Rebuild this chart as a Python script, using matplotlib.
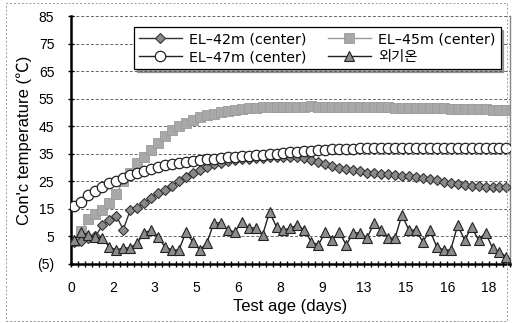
import matplotlib
matplotlib.use("Agg")
import matplotlib.pyplot as plt
import numpy as np
from matplotlib.patches import Rectangle

plt.rcParams['font.family'] = ['Liberation Sans', 'Noto Sans CJK KR', 'DejaVu Sans']

x_labels = ['0', '2', '3', '5', '6', '8', '9', '13', '15', '16', '18']
label_step = 6

el42 = [3, 3.5, 4.5, 5, 9, 11, 12.5, 7.5, 14.5, 15.5, 17, 19, 20.8, 22, 23.5, 25, 26.5, 28,
        29.3, 30.3, 31.2, 31.8, 32.3, 32.7, 33, 33.2, 33.4, 33.6, 33.8, 34, 34, 34, 33.8,
        33.4, 32.9, 32.2, 31.4, 30.6, 30, 29.5, 29, 28.6, 28.2, 27.9, 27.7, 27.5, 27.3,
        27.1, 26.9, 26.6, 26.3, 25.9, 25.4, 24.9, 24.4, 24.1, 23.8, 23.5, 23.3, 23.1, 23,
        23, 22.9]
el45 = [3.5, 7, 11.5, 13, 14.5, 17, 20.5, 25, 28, 31.5, 34, 36.5, 39, 41.5, 43.5, 45, 46.3,
        47.4, 48.3, 49, 49.6, 50.1, 50.6, 51, 51.3, 51.6, 51.8, 52, 52, 52, 52.1, 52, 52.1,
        52, 52.2, 52.1, 52, 52.1, 52, 52, 51.9, 52, 52, 51.9, 51.9, 52, 51.8, 51.8, 51.7,
        51.7, 51.6, 51.6, 51.5, 51.5, 51.4, 51.4, 51.3, 51.3, 51.2, 51.2, 51.1, 51.1, 51]
el47 = [16, 17.5, 20, 21.5, 23, 24.3, 25.3, 26.3, 27.2, 28, 28.8, 29.5, 30.2, 30.8, 31.3,
        31.8, 32.2, 32.5, 32.8, 33.1, 33.3, 33.5, 33.7, 33.9, 34.1, 34.3, 34.5, 34.7, 34.9,
        35.1, 35.3, 35.5, 35.7, 35.9, 36.1, 36.3, 36.5, 36.6, 36.7, 36.8, 36.9, 37, 37, 37,
        37.1, 37.1, 37.1, 37.1, 37.2, 37.2, 37.2, 37.2, 37.2, 37.2, 37.3, 37.3, 37.3, 37.3,
        37.3, 37.3, 37.3, 37.3, 37.3]
outdoor = [3.7, 6.6, 5.5, 4.8, 4.4, 1.2, 0.1, 0.8, 0.8, 2.6,
           6.3, 7.3, 4.8, 1.2, 0.1, 0.1, 6.6, 3.0, 0.1, 2.6,
           9.9, 9.9, 7.3, 6.6, 10.3, 8.1, 8.1, 5.5, 13.9, 8.4,
           7.3, 8.1, 9.1, 7.3, 3.0, 1.9, 6.6, 3.7, 6.6, 1.9,
           6.3, 6.3, 4.4, 9.9, 7.3, 4.4, 4.4, 12.8, 7.3, 7.3,
           3.0, 7.3, 1.2, 0.1, 0.1, 9.1, 3.7, 8.4, 3.7, 6.3,
           0.8, -0.6, -2.4]

y_ticks = [-5, 5, 15, 25, 35, 45, 55, 65, 75, 85]
y_labels = ['(5)', '5', '15', '25', '35', '45', '55', '65', '75', '85']

n = len(el42)
xs = np.arange(n) + 0.5

fig = plt.figure(figsize=(5.13, 3.23), dpi=100)
ax = fig.add_axes([0.1384, 0.1827, 0.8556, 0.7673])

for yv in y_ticks[1:]:
    ax.axhline(yv, color='#666666', lw=0.7, ls=(0, (3, 2)), zorder=0)

ax.plot(xs, el42, color='#333333', lw=1.0, marker='D', ms=5, mfc='#8a8a8a',
        mec='#333333', mew=0.8, label='EL–42m (center)', zorder=3)
ax.plot(xs, el47, color='#222222', lw=1.0, marker='o', ms=7.5, mfc='white',
        mec='#222222', mew=0.9, label='EL–47m (center)', zorder=4)
ax.plot(xs, el45, color='#999999', lw=1.0, marker='s', ms=6.5, mfc='#a8a8a8',
        mec='#9a9a9a', mew=0.6, label='EL–45m (center)', zorder=2)
ax.plot(xs, outdoor, color='#222222', lw=1.0, marker='^', ms=7, mfc='#8c8c8c',
        mec='#222222', mew=0.8, label='외기온', zorder=3)

ax.set_xlim(0, n)
ax.set_ylim(-5, 85)
ax.set_yticks(y_ticks)
ax.set_yticklabels(y_labels, fontsize=10)
ax.set_xticks(np.arange(0, n + 1))
ax.set_xticklabels([x_labels[i // label_step] if (i % label_step == 0 and i // label_step < len(x_labels)) else ''
                    for i in range(n + 1)], fontsize=10)
ax.tick_params(axis='x', direction='inout', length=4, width=1.0, pad=10)
ax.tick_params(axis='y', direction='inout', length=4, width=1.0, pad=10)

for s in ['left', 'bottom']:
    ax.spines[s].set_linewidth(1.8)
    ax.spines[s].set_color('black')
ax.spines['right'].set_color('#888888')
ax.spines['right'].set_linewidth(1.0)
ax.spines['top'].set_visible(False)

ax.set_xlabel('Test age (days)', fontsize=12, labelpad=3)
ax.set_ylabel("Con'c temperature (℃)", fontsize=12, labelpad=4)

handles, labels = ax.get_legend_handles_labels()
leg = ax.legend(handles, labels, ncol=2, loc='upper right', bbox_to_anchor=(0.995, 0.985),
                prop={'family': ['DejaVu Sans', 'Noto Sans CJK KR'], 'size': 10.3},
                frameon=True, fancybox=False, shadow=True,
                handlelength=3.0, columnspacing=1.5, handletextpad=0.5,
                borderpad=0.35, labelspacing=0.3)
leg.get_frame().set_edgecolor('black')
leg.get_frame().set_linewidth(0.9)

fig.patches.append(Rectangle((0.012, 0.006), 0.976, 0.985, transform=fig.transFigure,
                             fill=False, edgecolor='#999999', lw=0.7, ls=(0, (2, 2))))

fig.savefig('out.png', dpi=100)
